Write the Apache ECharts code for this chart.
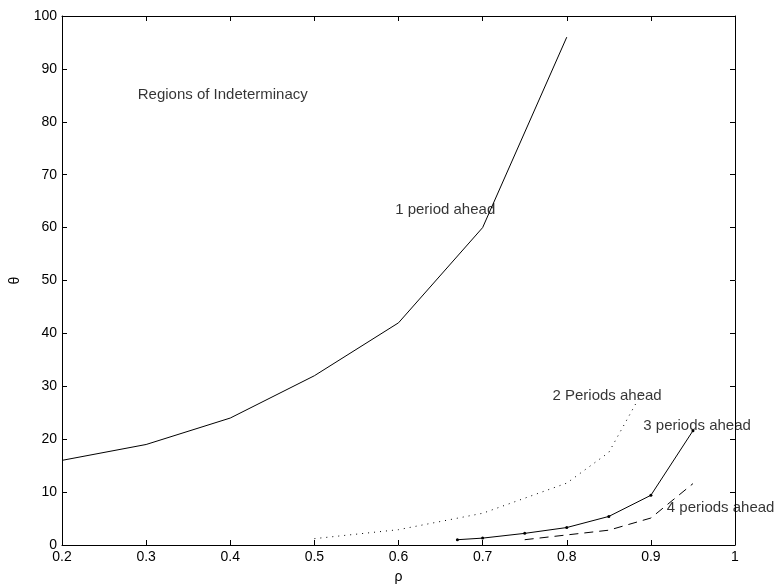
<!DOCTYPE html>
<html>
<head>
<meta charset="utf-8">
<script src="https://cdn.jsdelivr.net/npm/echarts@6/dist/echarts.min.js"></script>
<style>html,body{margin:0;padding:0;background:#fff}#c{width:776px;height:588px}</style>
</head>
<body>
<div id="c"></div>
<script>
// Data
const rho1 = [0.2, 0.3, 0.4, 0.5, 0.6, 0.7, 0.8];
const theta1 = [16, 19, 24, 32, 42, 60, 96];
const rho2 = [0.5, 0.6, 0.7, 0.8, 0.85, 0.89];
const theta2 = [1.2, 2.9, 6, 11.7, 17.5, 29];
const rho3 = [0.67, 0.7, 0.75, 0.8, 0.85, 0.9, 0.95];
const theta3 = [1.0, 1.3, 2.2, 3.3, 5.4, 9.4, 21.6];
const rho4 = [0.75, 0.8, 0.85, 0.9, 0.95];
const theta4 = [1.0, 1.9, 2.8, 5.1, 11.6];
const notes = ["Regions of Indeterminacy", "1 period ahead", "2 Periods ahead", "3 periods ahead", "4 periods ahead"];
const noteRho = [0.290, 0.596, 0.783, 0.891, 0.919];
const noteTheta = [85.1, 63.3, 28.1, 22.5, 7.0];

const pairs = (xs, ys) => xs.map((x, i) => [x, ys[i]]);
const font = 'Liberation Sans, Arial, Helvetica, sans-serif';
const chart = echarts.init(document.getElementById('c'), null, {renderer: 'canvas'});

const axisCommon = {
  axisLine: {show: true, onZero: false, lineStyle: {color: '#000', width: 1}},
  axisTick: {show: true, inside: true, length: 5, lineStyle: {color: '#000'}},
  splitLine: {show: false},
  axisLabel: {color: '#000', fontFamily: font, fontSize: 14}
};

chart.setOption({
  animation: false,
  backgroundColor: '#fff',
  grid: {left: 62, right: 41, top: 16, bottom: 43, containLabel: false, outerBoundsMode: 'none'},
  xAxis: [
    Object.assign({}, axisCommon, {
      type: 'value', min: 0.2, max: 1, interval: 0.1, position: 'bottom',
      name: 'ρ', nameLocation: 'middle', nameGap: 25,
      nameTextStyle: {color: '#000', fontFamily: font, fontSize: 14},
      axisLabel: Object.assign({}, axisCommon.axisLabel, {margin: 5,
        formatter: v => String(Math.round(v * 10) / 10)})
    }),
    Object.assign({}, axisCommon, {
      type: 'value', min: 0.2, max: 1, interval: 0.1, position: 'top',
      axisLabel: {show: false}
    })
  ],
  yAxis: [
    Object.assign({}, axisCommon, {
      type: 'value', min: 0, max: 100, interval: 10, position: 'left',
      name: 'θ', nameLocation: 'middle', nameGap: 40, nameRotate: 90,
      nameTextStyle: {color: '#000', fontFamily: font, fontSize: 14},
      axisLabel: Object.assign({}, axisCommon.axisLabel, {margin: 5})
    }),
    Object.assign({}, axisCommon, {
      type: 'value', min: 0, max: 100, interval: 10, position: 'right',
      axisLabel: {show: false}
    })
  ],
  series: [
    {type: 'line', name: '1', data: pairs(rho1, theta1), showSymbol: false, symbol: 'none',
     lineStyle: {color: '#000', width: 1}},
    {type: 'line', name: '2', data: pairs(rho2, theta2), showSymbol: false, symbol: 'none',
     lineStyle: {color: '#000', width: 1, type: [1, 5]}},
    {type: 'line', name: '3', data: pairs(rho3, theta3), symbol: 'circle', symbolSize: 3, showSymbol: true,
     itemStyle: {color: '#000'}, lineStyle: {color: '#000', width: 1}},
    {type: 'line', name: '4', data: pairs(rho4, theta4), showSymbol: false, symbol: 'none',
     lineStyle: {color: '#000', width: 1, type: [9, 6]}},
    {type: 'scatter', name: 'notes', silent: true, symbolSize: 0,
     itemStyle: {color: '#000'},
     data: notes.map((t, i) => ({name: t, value: [noteRho[i], noteTheta[i]]})),
     label: {show: true, position: 'right', distance: 0, formatter: p => p.name,
       color: '#000', fontFamily: font, fontSize: 15}, z: 10}
  ]
});
</script>
</body>
</html>
